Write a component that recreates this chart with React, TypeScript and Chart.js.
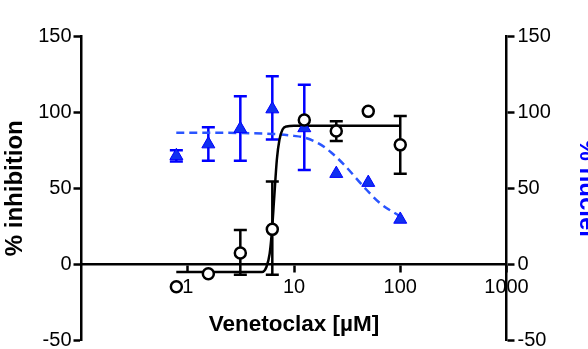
import { useEffect, useRef } from "react";
import { Chart, registerables } from "chart.js";

Chart.register(...registerables);

// Concentrations (µM)
const CONC = [0.78125, 1.5625, 3.125, 6.25, 12.5, 25, 50, 100];
// % inhibition (left axis)
const INHIBITION = [-14.7, -6.2, 7.5, 23, 94.8, 87.6, 100.5, 78.5];
const INHIBITION_LOW = [null, null, -6.8, -6.8, null, 81, null, 59.6];
const INHIBITION_HIGH = [null, null, 22.5, 54.4, null, 94, null, 97.4];
// % nuclei (right axis)
const NUCLEI = [71.3, 79, 89, 102, 89.6, 59.6, 53.7, 29.5];
const NUCLEI_LOW = [67.5, 68, 68, 82, 62, null, null, null];
const NUCLEI_HIGH = [75, 90, 110.4, 123.5, 118, null, null, null];
// Fitted curves
const INHIB_FIT_X = [0.78, 5.0, 5.5, 5.9, 6.2, 6.5, 6.9, 7.3, 7.8, 8.5, 10, 100];
const INHIB_FIT_Y = [-5, -5, -1.7, 7, 22, 43, 69, 82, 88.6, 90.6, 91, 91];
const NUCLEI_FIT_X = [0.78, 3, 6.25, 10, 12.5, 17, 22.4, 30, 45.7, 65, 100];
const NUCLEI_FIT_Y = [86.5, 86.3, 85.7, 84.4, 83.3, 79.5, 73.5, 65, 50.7, 40, 31.5];
// Axes
const X_TICKS = [1, 10, 100, 1000];
const Y_MIN = -50;
const Y_MAX = 150;
const Y_STEP = 50;

const BLUE = "#0000ff";
const BLUE_LINE = "#2a55ff";
const FONT = "'Liberation Sans', Arial, sans-serif";

const errorBarPlugin = {
  id: "errorBars",
  beforeDatasetsDraw(chart: any) {
    const ctx = chart.ctx;
    const xs = chart.scales.x;
    chart.data.datasets.forEach((ds: any) => {
      if (!ds.errLow) return;
      const ys = chart.scales[ds.yAxisID || "y"];
      ctx.save();
      ctx.strokeStyle = ds.errColor;
      ctx.lineWidth = 2.5;
      ds.data.forEach((p: any, i: number) => {
        const lo = ds.errLow[i];
        const hi = ds.errHigh[i];
        if (lo == null || hi == null) return;
        const px = xs.getPixelForValue(p.x);
        const pyl = ys.getPixelForValue(lo);
        const pyh = ys.getPixelForValue(hi);
        const cw = 6.5;
        ctx.beginPath();
        ctx.moveTo(px, pyl);
        ctx.lineTo(px, pyh);
        ctx.moveTo(px - cw, pyl);
        ctx.lineTo(px + cw, pyl);
        ctx.moveTo(px - cw, pyh);
        ctx.lineTo(px + cw, pyh);
        ctx.stroke();
      });
      ctx.restore();
    });
  },
};

export default function App() {
  const ref = useRef<HTMLCanvasElement | null>(null);

  useEffect(() => {
    if (!ref.current) return;
    const yTickOpts = {
      font: { family: FONT, size: 20 },
      color: "#000",
      stepSize: Y_STEP,
    };
    const chart = new Chart(ref.current, {
      type: "scatter",
      data: {
        datasets: [
          {
            label: "% inhibition",
            data: CONC.map((x, i) => ({ x, y: INHIBITION[i] })),
            yAxisID: "y",
            showLine: false,
            pointStyle: "circle",
            pointRadius: 5.5,
            pointBorderWidth: 2.5,
            pointBorderColor: "#000",
            pointBackgroundColor: "#fff",
            errLow: INHIBITION_LOW,
            errHigh: INHIBITION_HIGH,
            errColor: "#000",
          } as any,
          {
            label: "% nuclei",
            data: CONC.map((x, i) => ({ x, y: NUCLEI[i] })),
            yAxisID: "y2",
            showLine: false,
            pointStyle: "triangle",
            pointRadius: 7.5,
            pointBorderWidth: 1,
            pointBorderColor: BLUE,
            pointBackgroundColor: "#1030f0",
            errLow: NUCLEI_LOW,
            errHigh: NUCLEI_HIGH,
            errColor: BLUE,
          } as any,
          {
            label: "inhibition fit",
            data: INHIB_FIT_X.map((x, i) => ({ x, y: INHIB_FIT_Y[i] })),
            yAxisID: "y",
            showLine: true,
            pointRadius: 0,
            borderColor: "#000",
            borderWidth: 2.5,
            cubicInterpolationMode: "monotone",
          } as any,
          {
            label: "nuclei fit",
            data: NUCLEI_FIT_X.map((x, i) => ({ x, y: NUCLEI_FIT_Y[i] })),
            yAxisID: "y2",
            showLine: true,
            pointRadius: 0,
            borderColor: BLUE_LINE,
            borderWidth: 2.5,
            borderDash: [8, 5],
            cubicInterpolationMode: "monotone",
          } as any,
        ],
      },
      options: {
        animation: false,
        responsive: false,
        maintainAspectRatio: false,
        layout: { padding: { top: 36, left: 0, right: 0, bottom: 0 } },
        plugins: {
          legend: { display: false },
          tooltip: { enabled: false },
        },
        scales: {
          x: {
            type: "logarithmic",
            position: { y: 0 } as any,
            min: 0.1,
            max: 1000,
            afterBuildTicks: (scale: any) => {
              scale.ticks = X_TICKS.map((v) => ({ value: v }));
            },
            afterFit: (scale: any) => {
              scale.height = 6.5;
              scale.paddingLeft = 0;
              scale.paddingRight = 0;
            },
            ticks: {
              font: { family: FONT, size: 20 },
              color: "#000",
              padding: 4,
              autoSkip: false,
              maxRotation: 0,
              callback: (v: any) => String(v),
            },
            grid: {
              display: true,
              drawOnChartArea: false,
              drawTicks: true,
              tickLength: 7,
              tickWidth: 2.5,
              tickColor: "#000",
            },
            border: { display: true, color: "#000", width: 2.5 },
            title: {
              display: true,
              text: "Venetoclax [µM]",
              font: { family: FONT, size: 22.5, weight: "bold" },
              color: "#000",
              padding: { top: 0, bottom: -67 },
            },
          } as any,
          y: {
            type: "linear",
            position: "left",
            min: Y_MIN,
            max: Y_MAX,
            afterFit: (scale: any) => {
              scale.width = 81.5;
              scale.paddingTop = 0;
              scale.paddingBottom = 0;
            },
            ticks: { ...yTickOpts, padding: 2 },
            grid: {
              display: true,
              drawOnChartArea: false,
              drawTicks: true,
              tickLength: 8,
              tickWidth: 2.5,
              tickColor: "#000",
            },
            border: { display: true, color: "#000", width: 2.5 },
            title: {
              display: true,
              text: "% inhibition",
              font: { family: FONT, size: 24, weight: "bold" },
              color: "#000",
              padding: { top: 1, bottom: 0 },
            },
          } as any,
          y2: {
            type: "linear",
            position: "right",
            min: Y_MIN,
            max: Y_MAX,
            afterFit: (scale: any) => {
              scale.width = 81.5;
              scale.paddingTop = 0;
              scale.paddingBottom = 0;
            },
            ticks: { ...yTickOpts, padding: 3 },
            grid: {
              display: true,
              drawOnChartArea: false,
              drawTicks: true,
              tickLength: 8,
              tickWidth: 2.5,
              tickColor: "#000",
            },
            border: { display: true, color: "#000", width: 2.5 },
            title: {
              display: true,
              text: "% nuclei",
              font: { family: FONT, size: 24, weight: "bold" },
              color: BLUE,
              padding: { top: -13, bottom: 0 },
            },
          } as any,
        },
      },
      plugins: [errorBarPlugin],
    });
    return () => chart.destroy();
  }, []);

  return (
    <div style={{ position: "fixed", left: 0, top: 0, width: 588, height: 349, background: "#fff" }}>
      <canvas ref={ref} width={588} height={349} />
    </div>
  );
}
